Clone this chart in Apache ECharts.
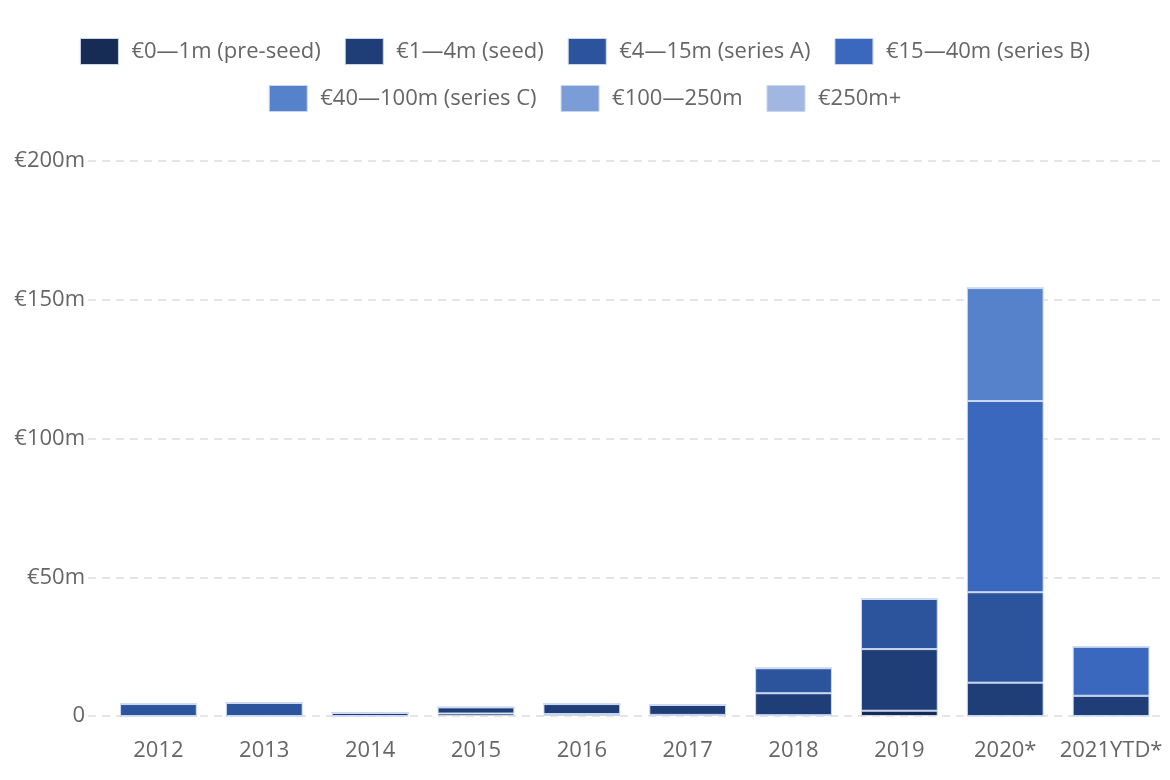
<!DOCTYPE html>
<html><head><meta charset="utf-8">
<script src="https://cdn.jsdelivr.net/npm/echarts@6/dist/echarts.min.js"></script>
<style>html,body{margin:0;padding:0;background:#fff}#c{width:1170px;height:780px}</style>
</head><body><div id="c"></div>
<script>
const categories = ['2012','2013','2014','2015','2016','2017','2018','2019','2020*','2021YTD*'];
const seriesNames = ['€0—1m (pre-seed)','€1—4m (seed)','€4—15m (series A)','€15—40m (series B)','€40—100m (series C)','€100—250m','€250m+'];
const colors = ['#172c55','#1f3d77','#2b549c','#3968be','#5682cc','#7a9cd7','#a1b6e1'];
const preSeed  = [0, 0, 0, 0.9, 0.7, 0.4, 0.3, 1.9, 0, 0];
const seed     = [0, 0, 1.1, 2.2, 3.6, 3.6, 7.9, 22.2, 12.0, 7.3];
const seriesA  = [4.3, 4.7, 0, 0, 0, 0, 9.0, 18.1, 32.6, 0];
const seriesB  = [0, 0, 0, 0, 0, 0, 0, 0, 68.9, 17.7];
const seriesC  = [0, 0, 0, 0, 0, 0, 0, 0, 40.7, 0];
const s100_250 = [0, 0, 0, 0, 0, 0, 0, 0, 0, 0];
const s250plus = [0, 0, 0, 0, 0, 0, 0, 0, 0, 0];
const yTicks = [0, 50, 100, 150, 200];
const values = [preSeed, seed, seriesA, seriesB, seriesC, s100_250, s250plus];

const font = '"Open Sans", "Noto Sans", sans-serif';
const legendItem = (n) => {
  const i = seriesNames.indexOf(n);
  return { name: n, itemStyle: { color: colors[i], borderColor: '#c9d5ef', borderWidth: 1 } };
};
const legendBase = {
  left: 'center', orient: 'horizontal', icon: 'rect',
  itemWidth: 38, itemHeight: 26, itemGap: 24,
  textStyle: { fontSize: 22, color: '#666', fontFamily: font, padding: [0, 0, 0, 8] }
};
const chart = echarts.init(document.getElementById('c'));
chart.setOption({
  animation: false,
  textStyle: { fontFamily: font },
  legend: [
    Object.assign({}, legendBase, { top: 33, data: seriesNames.slice(0, 4).map(legendItem) }),
    Object.assign({}, legendBase, { top: 80, data: seriesNames.slice(4).map(legendItem) })
  ],
  grid: [
    { left: 88, right: 5, top: 161, bottom: 64, containLabel: false },
    { left: 105.5, right: 6, top: 161, bottom: 64, containLabel: false }
  ],
  xAxis: [
    { type: 'category', gridIndex: 0, data: categories, show: false },
    { type: 'category', gridIndex: 1, data: categories,
      axisLine: { show: false }, axisTick: { show: false },
      axisLabel: { interval: 0, fontSize: 22, color: '#666', margin: 24, fontFamily: font } }
  ],
  yAxis: [
    { type: 'value', gridIndex: 0, min: 0, max: 200, interval: 50,
      axisLine: { show: false }, axisTick: { show: false },
      axisLabel: { fontSize: 22, color: '#666', margin: 3, fontFamily: font,
        formatter: v => yTicks.includes(v) ? (v === 0 ? '0' : '€' + v + 'm') : '' },
      splitLine: { lineStyle: { color: '#dddddd', type: [8, 6], width: 1.5 } } },
    { type: 'value', gridIndex: 1, min: 0, max: 200, interval: 50, show: false, splitLine: { show: false } }
  ],
  series: seriesNames.map((n, i) => ({
    name: n, type: 'bar', stack: 'total', xAxisIndex: 1, yAxisIndex: 1,
    barWidth: '72.5%', data: values[i],
    itemStyle: { color: colors[i], borderColor: 'rgba(205,218,242,0.95)', borderWidth: 1 }
  }))
});
</script></body></html>
